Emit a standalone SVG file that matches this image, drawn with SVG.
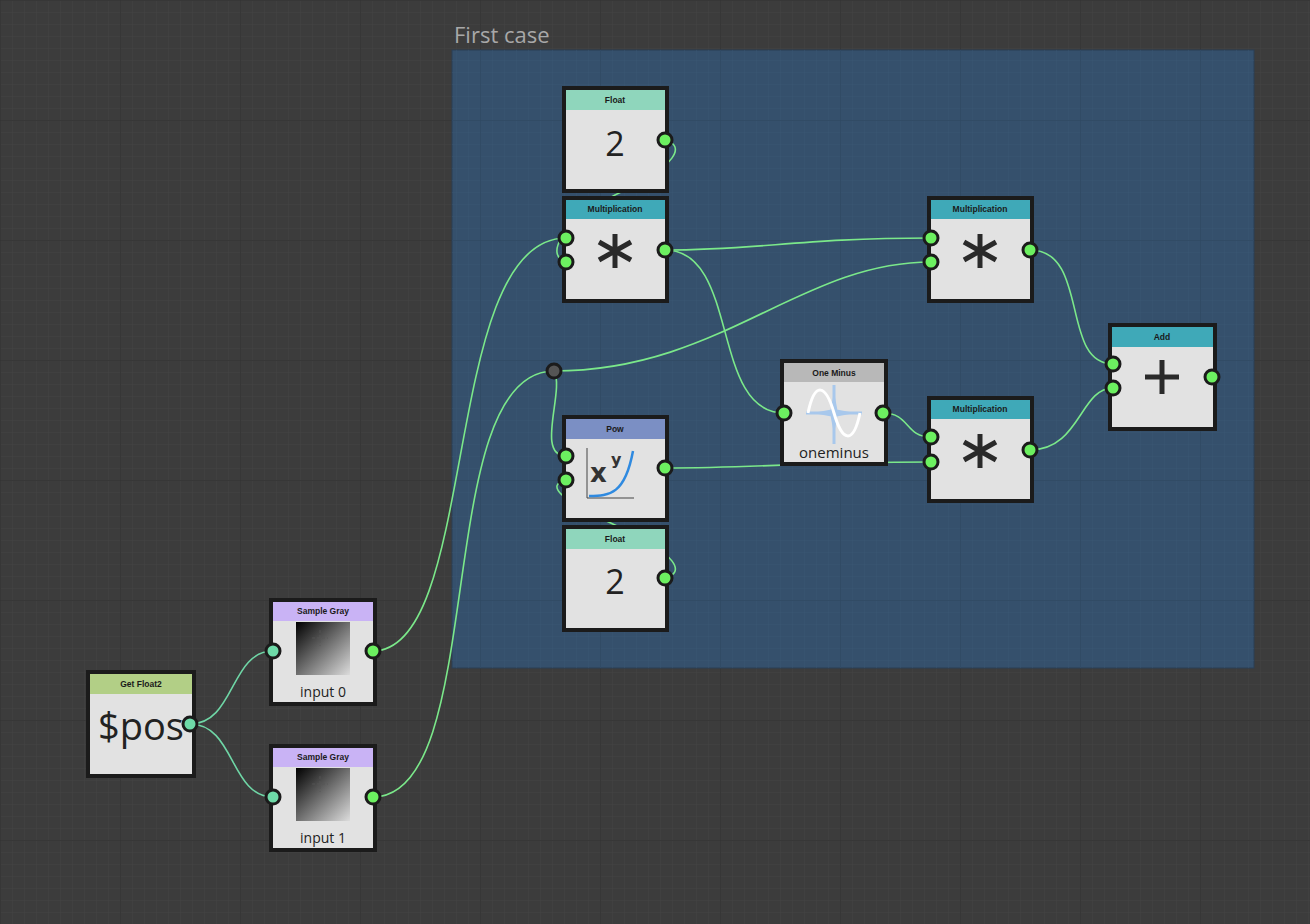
<svg xmlns="http://www.w3.org/2000/svg" width="1310" height="924" viewBox="0 0 1310 924">
<defs>
<pattern id="g" width="12" height="12" patternUnits="userSpaceOnUse"><path d="M12 0H0V12" fill="none" stroke="#444" stroke-width="1"/></pattern>
<pattern id="G" width="120" height="120" patternUnits="userSpaceOnUse"><path d="M120 0H0V120" fill="none" stroke="#333" stroke-width="1.5"/></pattern>
<pattern id="gb" width="12" height="12" patternUnits="userSpaceOnUse"><path d="M12 0H0V12" fill="none" stroke="#3a5672" stroke-width="1"/></pattern>
<pattern id="Gb" width="120" height="120" patternUnits="userSpaceOnUse"><path d="M120 0H0V120" fill="none" stroke="#2e4862" stroke-width="1.5"/></pattern>
<linearGradient id="gray" x1="0" y1="0" x2="1" y2="1"><stop offset="0" stop-color="#000"/><stop offset="1" stop-color="#dcdcdc"/></linearGradient>
</defs>
<style>
.nb{fill:#e2e2e2;stroke:#1b1b1b;stroke-width:4}
.ht{font-family:"Liberation Sans",Arial,sans-serif;font-size:8.5px;font-weight:bold;fill:#1a1a1a;text-anchor:middle}
.big{font-family:"Open Sans","DejaVu Sans",sans-serif;fill:#222;text-anchor:middle}
.p{fill:#6cf060;stroke:#1b1b1b;stroke-width:3}
.pt{fill:#6edaa8;stroke:#1b1b1b;stroke-width:3}
.c{fill:none;stroke:#7be88a;stroke-width:1.6}
.ct{fill:none;stroke:#6fd6a6;stroke-width:1.6}
.ic{stroke:#2a2a2a;stroke-width:5;fill:none}
</style>
<rect width="1310" height="924" fill="#3c3c3c"/>
<rect width="1310" height="924" fill="url(#g)"/>
<rect width="1310" height="924" fill="url(#G)"/>
<text x="454" y="43" font-family="Open Sans,DejaVu Sans,sans-serif" font-size="22" fill="#a8a8a8">First case</text>
<rect x="452" y="50" width="802" height="618" fill="#35506c" stroke="#2a3e54"/>
<rect x="452" y="50" width="802" height="618" fill="url(#gb)"/>
<rect x="452" y="50" width="802" height="618" fill="url(#Gb)"/>

<g id="connectors">
<path class="ct" d="M190,724 C235,724 230,651 273,651"/>
<path class="ct" d="M190,724 C235,724 230,797 273,797"/>
<path class="c" d="M373,651 C480,651 440,238 566,238"/>
<path class="c" d="M373,797 C490,797 430,371 554,371"/>
<path class="c" d="M554,371 C720,371 800,262 931,262"/>
<path class="c" d="M554,371 C565,390 535,456 566,456"/>
<path class="c" d="M665,140 C685,145 680,165 615,195 C560,225 545,255 566,262"/>
<path class="c" d="M665,578 C685,573 680,555 615,525 C560,500 545,485 566,480"/>
<path class="c" d="M665,250 C760,250 800,238 931,238"/>
<path class="c" d="M665,250 C740,250 710,413 784,413"/>
<path class="c" d="M665,468 C760,468 800,462 931,462"/>
<path class="c" d="M883,413 C910,413 905,437 931,437"/>
<path class="c" d="M1030,250 C1090,250 1060,364 1113,364"/>
<path class="c" d="M1030,450 C1080,450 1080,388 1113,388"/>
</g>

<g id="float1"><rect class="nb" x="564" y="88" width="103" height="103"/><rect x="566" y="90" width="99" height="20" fill="#8fd6bc"/><text class="ht" x="615" y="103">Float</text><text class="big" x="615" y="156" font-size="34">2</text><circle class="p" cx="665" cy="140" r="7"/></g>

<g id="mult1"><rect class="nb" x="564" y="198" width="103" height="103"/><rect x="566" y="200" width="99" height="19" fill="#3fa9b8"/><text class="ht" x="615" y="212">Multiplication</text><path class="ic" d="M615,234V268M599,242L631,260M599,260L631,242"/><circle class="p" cx="566" cy="238" r="7"/><circle class="p" cx="566" cy="262" r="7"/><circle class="p" cx="665" cy="250" r="7"/></g>

<g id="mult2"><rect class="nb" x="929" y="198" width="103" height="103"/><rect x="931" y="200" width="99" height="19" fill="#3fa9b8"/><text class="ht" x="980" y="212">Multiplication</text><path class="ic" d="M980,234V268M964,242L996,260M964,260L996,242"/><circle class="p" cx="931" cy="238" r="7"/><circle class="p" cx="931" cy="262" r="7"/><circle class="p" cx="1030" cy="250" r="7"/></g>

<g id="mult3"><rect class="nb" x="929" y="398" width="103" height="103"/><rect x="931" y="400" width="99" height="19" fill="#3fa9b8"/><text class="ht" x="980" y="412">Multiplication</text><path class="ic" d="M980,434V468M964,442L996,460M964,460L996,442"/><circle class="p" cx="931" cy="437" r="7"/><circle class="p" cx="931" cy="462" r="7"/><circle class="p" cx="1030" cy="450" r="7"/></g>

<g id="add"><rect class="nb" x="1110" y="325" width="105" height="104"/><rect x="1112" y="327" width="101" height="20" fill="#3fa9b8"/><text class="ht" x="1162" y="340">Add</text><path class="ic" d="M1162,360V394M1145,377H1179"/><circle class="p" cx="1113" cy="364" r="7"/><circle class="p" cx="1113" cy="388" r="7"/><circle class="p" cx="1212" cy="377" r="7"/></g>

<g id="oneminus"><rect class="nb" x="782" y="361" width="104" height="103"/><rect x="784" y="363" width="100" height="19" fill="#b8b8b8"/><text class="ht" x="834" y="376">One Minus</text>
<path d="M834,385V444M806,413H862" stroke="#a8c8ec" stroke-width="3"/><path d="M834,392L838,413L834,434L830,413ZM813,413L834,409L855,413L834,417Z" fill="#a8c8ec"/>
<path d="M808,413 C815,380 826,385 834,413 C842,441 853,446 860,413" stroke="#fff" stroke-width="3" fill="none"/>
<text class="big" x="834" y="458" font-size="15">oneminus</text><circle class="p" cx="784" cy="413" r="7"/><circle class="p" cx="883" cy="413" r="7"/></g>

<g id="pow"><rect class="nb" x="564" y="417" width="103" height="103"/><rect x="566" y="419" width="99" height="20" fill="#7b8fc4"/><text class="ht" x="615" y="432">Pow</text>
<path d="M587,448V498H634" stroke="#444" stroke-width="1" fill="none"/><path d="M589,496 C610,496 625,494 633,451" stroke="#2f8ae0" stroke-width="2.5" fill="none"/>
<text x="590" y="482" font-family="DejaVu Sans,sans-serif" font-weight="bold" font-size="26" fill="#333">x</text><text x="611" y="465" font-family="DejaVu Sans,sans-serif" font-weight="bold" font-size="16" fill="#333">y</text>
<circle class="p" cx="566" cy="456" r="7"/><circle class="p" cx="566" cy="480" r="7"/><circle class="p" cx="665" cy="468" r="7"/></g>

<g id="float2"><rect class="nb" x="564" y="527" width="103" height="103"/><rect x="566" y="529" width="99" height="20" fill="#8fd6bc"/><text class="ht" x="615" y="542">Float</text><text class="big" x="615" y="594" font-size="34">2</text><circle class="p" cx="665" cy="578" r="7"/></g>

<g id="reroute"><circle cx="554" cy="371" r="7" fill="#555" stroke="#1b1b1b" stroke-width="3"/></g>

<g id="sample0"><rect class="nb" x="271" y="600" width="104" height="104"/><rect x="273" y="602" width="100" height="19" fill="#c9b3f5"/><text class="ht" x="323" y="614">Sample Gray</text><rect x="296" y="622" width="54" height="53" fill="url(#gray)"/><path d="M320,630V646M312,638H328" stroke="#555" stroke-width="0.8" stroke-dasharray="3,2"/><text class="big" x="323" y="697" font-size="14">input 0</text><circle class="pt" cx="273" cy="651" r="7"/><circle class="p" cx="373" cy="651" r="7"/></g>

<g id="sample1"><rect class="nb" x="271" y="746" width="104" height="104"/><rect x="273" y="748" width="100" height="19" fill="#c9b3f5"/><text class="ht" x="323" y="760">Sample Gray</text><rect x="296" y="768" width="54" height="53" fill="url(#gray)"/><path d="M320,776V792M312,784H328" stroke="#555" stroke-width="0.8" stroke-dasharray="3,2"/><text class="big" x="323" y="843" font-size="14">input 1</text><circle class="pt" cx="273" cy="797" r="7"/><circle class="p" cx="373" cy="797" r="7"/></g>

<g id="getfloat2"><rect class="nb" x="88" y="672" width="106" height="104"/><rect x="90" y="674" width="102" height="20" fill="#b2cf86"/><text class="ht" x="141" y="687">Get Float2</text><text class="big" x="141" y="740" font-size="38">$pos</text><circle class="pt" cx="190" cy="724" r="7"/></g>
</svg>
